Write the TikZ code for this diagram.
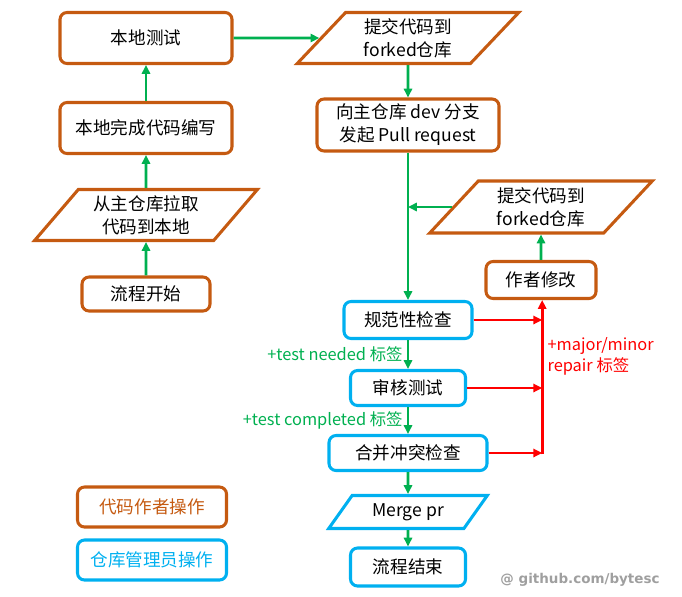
\documentclass[tikz,border=0pt]{standalone}
\usepackage{fontspec}
\setmainfont{Noto Sans CJK SC}
\newfontfamily\markfont{DejaVu Sans}
\usetikzlibrary{arrows.meta, shapes.geometric}
\definecolor{authorc}{HTML}{C55A11}
\definecolor{adminc}{HTML}{00B0F0}
\definecolor{flowc}{HTML}{00B050}
\definecolor{fixc}{HTML}{FF0000}

\begin{document}
\begin{tikzpicture}[x=0.03cm, y=-0.03cm, font=\fontsize{15}{19.5}\selectfont,
  >={Triangle[length=7.5pt, width=7pt]},
  author/.style={draw=authorc, line width=2.6pt},
  admin/.style={draw=adminc, line width=2.6pt},
  box/.style={rounded corners=6pt, inner sep=0pt, align=center},
  io/.style={trapezium, trapezium left angle=49, trapezium right angle=131,
    trapezium stretches=true, inner sep=0pt, align=center},
  go/.style={->, draw=flowc, line width=2.5pt},
  fix/.style={->, draw=fixc, line width=2.5pt},
  tag/.style={font=\fontsize{14}{18}\selectfont}]
  \useasboundingbox (0,0) rectangle (682,597);

  % Author steps
  \node[author, box, minimum width=5.16cm, minimum height=1.53cm] (test) at (146,38) {本地测试};
  \node[author, box, minimum width=5.16cm, minimum height=1.53cm] (write) at (146,128) {本地完成代码编写};
  \node[author, io, minimum width=6.69cm, minimum height=1.53cm] (pull) at (146,215) {从主仓库拉取\\代码到本地};
  \node[author, box, minimum width=3.84cm, minimum height=1.02cm] (start) at (146,294) {流程开始};
  \node[author, io, minimum width=6.66cm, minimum height=1.53cm] (fork) at (408,38) {提交代码到\\forked仓库};
  \node[author, box, minimum width=5.46cm, minimum height=1.56cm] (pr) at (408,125) {向主仓库 dev 分支\\发起 Pull request};
  \node[author, io, minimum width=6.69cm, minimum height=1.56cm] (refork) at (541,207) {提交代码到\\forked仓库};
  \node[author, box, minimum width=3.3cm, minimum height=1.11cm] (modify) at (541,280) {作者修改};

  % Admin steps
  \node[admin, box, minimum width=3.84cm, minimum height=1.11cm] (check) at (408,320) {规范性检查};
  \node[admin, box, minimum width=3.45cm, minimum height=1.05cm] (audit) at (408,388) {审核测试};
  \node[admin, box, minimum width=4.74cm, minimum height=1.05cm] (conflict) at (408,453) {合并冲突检查};
  \node[admin, io, minimum width=4.77cm, minimum height=0.99cm] (mergepr) at (408,512) {Merge pr};
  \node[admin, box, minimum width=3.45cm, minimum height=1.14cm] (finish) at (408,567) {流程结束};

  % Legend
  \node[author, box, text=authorc, minimum width=4.47cm, minimum height=1.2cm] (legauthor) at (152,507) {代码作者操作};
  \node[admin, box, text=adminc, minimum width=4.47cm, minimum height=1.2cm] (legadmin) at (152,560) {仓库管理员操作};

  % Green flow
  \foreach \a/\b in {start/pull, pull/write, write/test, test/fork, fork/pr, pr/check,
                     conflict/mergepr, mergepr/finish, modify/refork}
    \draw[go] (\a) -- (\b);
  \draw[go] (refork.west) -- (refork.west -| pr.south);
  \draw[go] (check) -- node[left, tag, text=flowc] (needed) {+test needed 标签} (audit);
  \draw[go] (audit) -- node[left, tag, text=flowc] (completed) {+test completed 标签} (conflict);

  % Red repair loop
  \coordinate (bus) at ([xshift=1pt]modify.south |- conflict.east);
  \foreach \n in {check, audit, conflict}
    \draw[fix] (\n) -- (\n -| bus);
  \draw[fix, shorten <=-1.25pt] (bus) -- node[pos=0.63, right, tag, text=fixc, align=left] (repair) {+major/minor\\repair 标签} (bus |- modify.south);

  \node[text=gray!75, font=\markfont\bfseries\fontsize{11.5}{13}\selectfont] (mark) at (580,580) {@ github.com/bytesc};
\end{tikzpicture}
\end{document}
